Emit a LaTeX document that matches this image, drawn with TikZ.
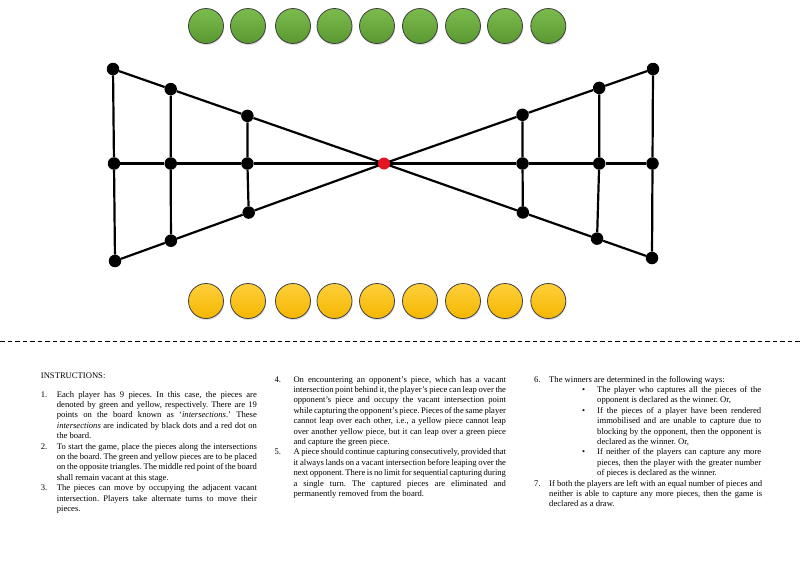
\documentclass[tikz,border=0pt]{standalone}
\usepackage{fontspec}
\setmainfont{Liberation Serif}
\usetikzlibrary{calc,shadows}
\definecolor{gtop}{RGB}{124,188,78}
\definecolor{gbot}{RGB}{88,152,48}
\definecolor{ytop}{RGB}{255,208,60}
\definecolor{ybot}{RGB}{244,182,0}
\definecolor{reddot}{RGB}{230,20,35}
\newlength\numw \newlength\txtw
\newcommand\NL[2]{\hbox{\makebox[\numw][l]{#1}\makebox[\txtw][s]{#2}}}
\newcommand\NLL[2]{\hbox{\makebox[\numw][l]{#1}#2}}
\newcommand\JL[1]{\hbox{\hskip\numw\makebox[\txtw][s]{#1}}}
\newcommand\LL[1]{\hbox{\hskip\numw #1}}
\newcommand\BL[1]{\hbox{\hskip48pt\makebox[15pt][l]{•}\makebox[164pt][s]{#1}}}
\newcommand\BJ[1]{\hbox{\hskip63pt\makebox[164pt][s]{#1}}}
\newcommand\BLL[1]{\hbox{\hskip63pt #1}}
\frenchspacing
\begin{document}
\begin{tikzpicture}[x=1pt,y=-1pt,
  board/.style={line width=2.2pt,black},
  dot/.style={circle,fill=black,inner sep=0pt,minimum size=12.5pt},
  centredot/.style={circle,fill=reddot,inner sep=0pt,minimum size=12pt},
  piece/.style={circle,inner sep=0pt,minimum size=35pt,draw=black!75,line width=0.8pt,
     drop shadow={shadow xshift=0.6pt,shadow yshift=-1.6pt,opacity=0.25}},
  gpiece/.style={piece,top color=gtop,bottom color=gbot},
  ypiece/.style={piece,top color=ytop,bottom color=ybot},
  divider/.style={line width=1pt,dash pattern=on 4.5pt off 3pt},
  txt/.style={inner sep=0pt,anchor=base west,font=\fontsize{8.6}{10.4}\selectfont\frenchspacing}]
\useasboundingbox[fill=white] (0,0) rectangle (800,566);

% pieces
\foreach \i/\x in {1/206,2/248,3/293,4/334.5,5/377,6/420,7/463,8/505,9/548.3}{
  \node[gpiece] (g\i) at (\x,26) {};
  \node[ypiece] (y\i) at (\x,301) {};
}

% board geometry
\coordinate (c0) at (384,163.5);
\coordinate (a1) at (113,69);
\coordinate (a3) at (115,261);
\coordinate (b1) at (653,69);
\coordinate (b3) at (652,258);
\coordinate (a2) at ($(a1)!0.5!(a3)$);
\coordinate (b2) at ($(b1)!0.5!(b3)$);

\node[dot] (L1t) at (a1) {};
\node[dot] (L2t) at ($(a1)!0.213!(c0)$) {};
\node[dot] (L3t) at ($(a1)!0.496!(c0)$) {};
\node[dot] (L1b) at (a3) {};
\node[dot] (L2b) at ($(a3)!0.208!(c0)$) {};
\node[dot] (L3b) at ($(a3)!0.497!(c0)$) {};
\node[dot] (L1m) at (a2 |- c0) {};
\node[dot] (L2m) at (L2t |- c0) {};
\node[dot] (L3m) at (L3t |- c0) {};

\node[dot] (R3t) at (b1) {};
\node[dot] (R2t) at ($(b1)!0.2!(c0)$) {};
\node[dot] (R1t) at ($(b1)!0.485!(c0)$) {};
\node[dot] (R3b) at (b3) {};
\node[dot] (R2b) at ($(b3)!0.205!(c0)$) {};
\node[dot] (R1b) at ($(b3)!0.482!(c0)$) {};
\node[dot] (R3m) at (b2 |- c0) {};
\node[dot] (R2m) at (R2t |- c0) {};
\node[dot] (R1m) at (R1t |- c0) {};

\draw[board] (L1t) -- (L2t) -- (L3t) -- (c0);
\draw[board] (L1b) -- (L2b) -- (L3b) -- (c0);
\draw[board] (R3t) -- (R2t) -- (R1t) -- (c0);
\draw[board] (R3b) -- (R2b) -- (R1b) -- (c0);
\draw[board] (L1m) -- (L2m) -- (L3m) -- (c0) -- (R1m) -- (R2m) -- (R3m);
\draw[board] (L1t) -- (L1m) -- (L1b);
\draw[board] (L2t) -- (L2m) -- (L2b);
\draw[board] (L3t) -- (L3m) -- (L3b);
\draw[board] (R1t) -- (R1m) -- (R1b);
\draw[board] (R2t) -- (R2m) -- (R2b);
\draw[board] (R3t) -- (R3m) -- (R3b);
\node[centredot] (C) at (c0) {};

% divider
\coordinate (dl) at (0,341.5);
\coordinate (dr) at (800,341.5);
\draw[divider] (dl) -- (dr);

% instructions
\node[txt] (title) at (40.7,378.5) {INSTRUCTIONS:};

\node[txt] (col1) at (40.7,397) {\setlength\numw{16pt}\setlength\txtw{200pt}\vtop{\baselineskip=10.4pt
\NL{1.}{Each player has 9 pieces. In this case, the pieces are}
\JL{denoted by green and yellow, respectively. There are 19}
\JL{points on the board known as ‘\textit{intersections}.’ These}
\JL{\textit{intersections} are indicated by black dots and a red dot on}
\LL{the board.}
\NL{2.}{To start the game, place the pieces along the intersections}
\JL{on the board. The green and yellow pieces are to be placed}
\JL{on the opposite triangles. The middle red point of the board}
\LL{shall remain vacant at this stage.}
\NL{3.}{The pieces can move by occupying the adjacent vacant}
\JL{intersection. Players take alternate turns to move their}
\LL{pieces.}}};

\node[txt] (col2) at (274.3,382) {\setlength\numw{19pt}\setlength\txtw{212.5pt}\vtop{\baselineskip=10.4pt
\NL{4.}{On encountering an opponent’s piece, which has a vacant}
\JL{intersection point behind it, the player’s piece can leap over the}
\JL{opponent’s piece and occupy the vacant intersection point}
\JL{while capturing the opponent’s piece. Pieces of the same player}
\JL{cannot leap over each other, i.e., a yellow piece cannot leap}
\JL{over another yellow piece, but it can leap over a green piece}
\LL{and capture the green piece.}
\NL{5.}{A piece should continue capturing consecutively, provided that}
\JL{it always lands on a vacant intersection before leaping over the}
\JL{next opponent. There is no limit for sequential capturing during}
\JL{a single turn. The captured pieces are eliminated and}
\LL{permanently removed from the board.}}};

\node[txt] (col3) at (534,382) {\setlength\numw{15pt}\setlength\txtw{213pt}\vtop{\baselineskip=10.4pt
\NLL{6.}{The winners are determined in the following ways:}
\BL{The player who captures all the pieces of the}
\BLL{opponent is declared as the winner. Or,}
\BL{If the pieces of a player have been rendered}
\BJ{immobilised and are unable to capture due to}
\BJ{blocking by the opponent, then the opponent is}
\BLL{declared as the winner. Or,}
\BL{If neither of the players can capture any more}
\BJ{pieces, then the player with the greater number}
\BLL{of pieces is declared as the winner.}
\NL{7.}{If both the players are left with an equal number of pieces and}
\JL{neither is able to capture any more pieces, then the game is}
\LL{declared as a draw.}}};
\end{tikzpicture}
\end{document}
